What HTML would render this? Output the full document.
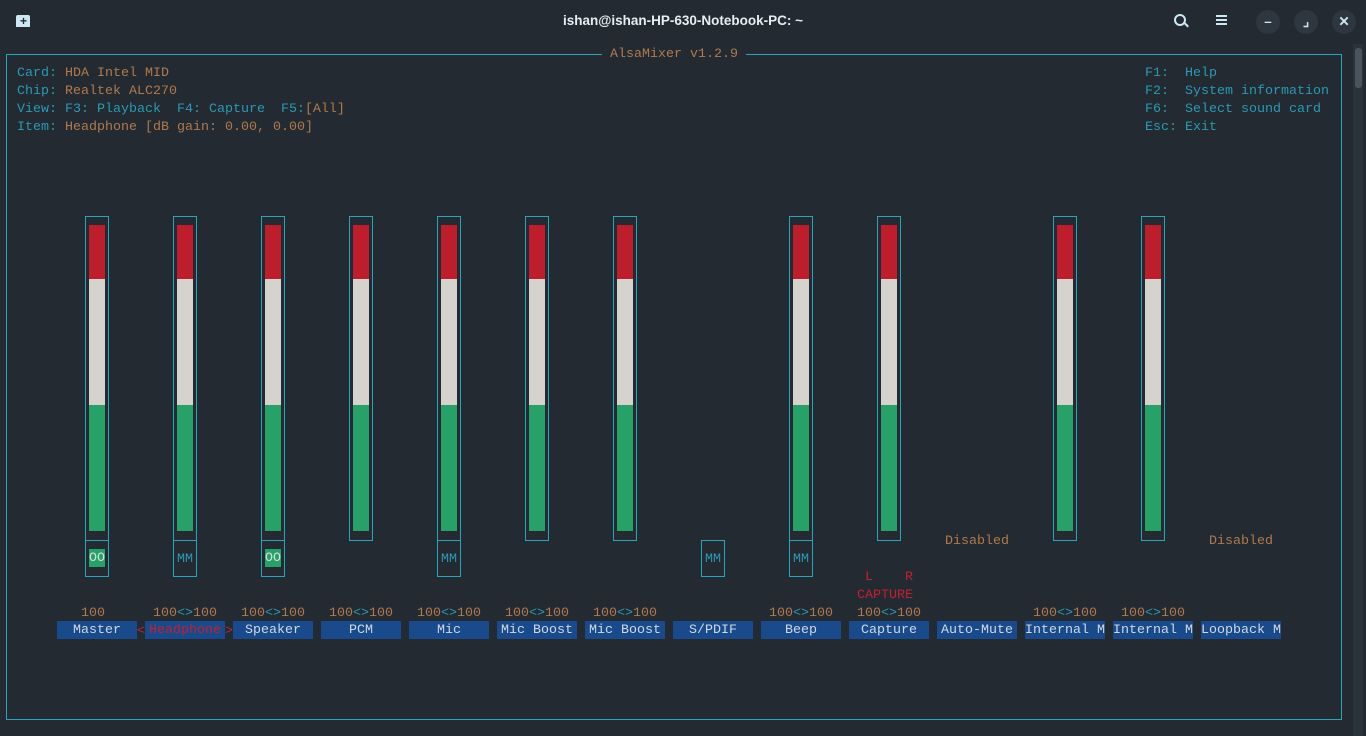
<!DOCTYPE html>
<html><head><meta charset="utf-8"><style>
body{margin:0;width:1366px;height:736px;background:#232a31;overflow:hidden;position:relative;font-family:"Liberation Mono",monospace;font-size:13.33px;}
.t{position:absolute;white-space:pre;line-height:18px;}
.c{color:#2a9ab4}.b{color:#b07a4e}.r{color:#c42030}
.box{position:absolute;border:1px solid #2aa4bc;box-sizing:border-box;}
.bar{position:absolute;width:16px;}
.lab{position:absolute;height:18px;width:80px;background:#184a8c;color:#d0d8e4;line-height:20px;text-align:center;white-space:pre;}
.circ{position:absolute;width:24px;height:24px;border-radius:12px;background:#2e3740;color:#cde8f5;text-align:center;line-height:24px;font-family:"Liberation Sans",sans-serif;font-weight:bold;}
</style></head><body>
<div style="position:absolute;left:16px;top:15px;width:14px;height:12px;background:#cde8f5;border-radius:2px 2px 0 0"></div>
<div style="position:absolute;left:20px;top:14px;color:#232a31;font:bold 12px 'Liberation Sans';">+</div>
<div class="t" style="left:0;width:1366px;top:13px;text-align:center;color:#e6eef4;font:bold 13.5px 'Liberation Sans',sans-serif;">ishan@ishan-HP-630-Notebook-PC: ~</div>
<div style="position:absolute;left:1174px;top:14px;width:8px;height:8px;border:2px solid #cde8f5;border-radius:6px"></div>
<div style="position:absolute;left:1184px;top:24px;width:5px;height:2px;background:#cde8f5;transform:rotate(45deg)"></div>
<div style="position:absolute;left:1216px;top:15px;width:11px;height:2px;background:#cde8f5;box-shadow:0 4px #cde8f5,0 8px #cde8f5"></div>
<div class="circ" style="left:1256px;top:10px">–</div>
<div class="circ" style="left:1294px;top:10px">⌟</div>
<div class="circ" style="left:1332px;top:10px">✕</div>
<div style="position:absolute;left:1353px;top:44px;width:10px;height:692px;background:#2a323a"></div>
<div style="position:absolute;left:1355px;top:48px;width:7px;height:40px;background:#4a545e;border-radius:3px"></div>
<div class="box" style="left:6px;top:54px;width:1336px;height:666px"></div>
<div class="t" style="left:602px;top:46px;color:#b07a4e;background:#232a31;padding:0 8px">AlsaMixer v1.2.9</div>
<div class="t" style="left:17px;top:65px"><span class="c">Card: </span><span class="b">HDA Intel MID</span>
<span class="c">Chip: </span><span class="b">Realtek ALC270</span>
<span class="c">View: F3: Playback  F4: Capture  F5:</span><span class="b">[All]</span>
<span class="c">Item: </span><span class="b">Headphone [dB gain: 0.00, 0.00]</span></div>
<div class="t c" style="left:1145px;top:65px">F1:  Help
F2:  System information
F6:  Select sound card
Esc: Exit</div>
<div id="s"></div>
<script>
var h='';
var bars=[0,1,2,3,4,5,6,8,9,11,12];
bars.forEach(function(i){var x=85+88*i;
h+='<div class="box" style="left:'+x+'px;top:216px;width:24px;height:325px"></div>';
h+='<div class="bar" style="left:'+(x+4)+'px;top:225px;height:54px;background:#be1e2c"></div>';
h+='<div class="bar" style="left:'+(x+4)+'px;top:279px;height:126px;background:#d6d2ce"></div>';
h+='<div class="bar" style="left:'+(x+4)+'px;top:405px;height:126px;background:#26a268"></div>';});
[[0,'OO'],[1,'MM'],[2,'OO'],[4,'MM'],[7,'MM'],[8,'MM']].forEach(function(m){var x=85+88*m[0];
h+='<div class="box" style="left:'+x+'px;top:540px;width:24px;height:37px"></div>';
if(m[1]=='OO')h+='<div class="t" style="left:'+(x+4)+'px;top:549px;width:16px;height:18px;line-height:20px;background:#26a268;color:#d6e0dc;text-align:center">OO</div>';
else h+='<div class="t c" style="left:'+(x+4)+'px;top:551px;width:16px;text-align:center">MM</div>';});
[10,13].forEach(function(i){h+='<div class="t b" style="left:'+(57+88*i+8)+'px;top:533px">Disabled</div>';});
h+='<div class="t r" style="left:865px;top:569px">L    R</div><div class="t r" style="left:857px;top:587px">CAPTURE</div>';
h+='<div class="t b" style="left:81px;top:605px">100</div>';
[1,2,3,4,5,6,8,9,11,12].forEach(function(i){h+='<div class="t" style="left:'+(65+88*i)+'px;top:605px"><span class="b">100</span><span class="c">&lt;&gt;</span><span class="b">100</span></div>';});
var L=['Master','Headphone','Speaker','PCM','Mic','Mic Boost','Mic Boost','S/PDIF','Beep','Capture','Auto-Mute','Internal M','Internal M','Loopback M'];
L.forEach(function(n,i){var x=57+88*i;
if(i==1){h+='<div class="lab" style="left:'+x+'px;top:621px;color:#c42030">'+n+'</div><div class="t r" style="left:'+(x-8)+'px;top:623px">&lt;</div><div class="t r" style="left:'+(x+80)+'px;top:623px">&gt;</div>';}
else h+='<div class="lab" style="left:'+x+'px;top:621px">'+n+'</div>';});
document.getElementById('s').innerHTML=h;
</script>
</body></html>
